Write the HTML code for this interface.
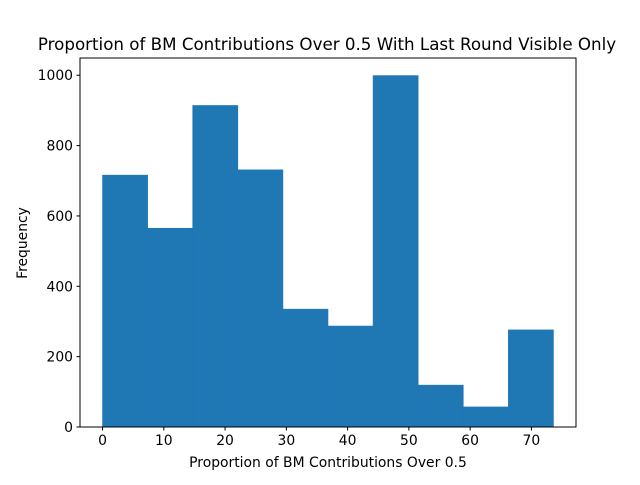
<!DOCTYPE html>
<html><head><meta charset="utf-8"><style>
body{margin:0;background:#fff;}
svg text{font-family:"DejaVu Sans","Liberation Sans",sans-serif;fill:#000;}
</style></head><body>
<svg id="chart" width="640" height="480" xmlns="http://www.w3.org/2000/svg">
<rect width="640" height="480" fill="#fff"/>
<text x="327" y="50" font-size="16.7" text-anchor="middle">Proportion of BM Contributions Over 0.5 With Last Round Visible Only</text>
<g id="bars"></g>
<rect x="80" y="58" width="496" height="369" fill="none" stroke="#000" stroke-width="1"/>
<g id="xticks"></g><g id="yticks"></g>
<text x="328" y="467" font-size="13.9" text-anchor="middle">Proportion of BM Contributions Over 0.5</text>
<text transform="translate(27,243) rotate(-90)" font-size="13.9" text-anchor="middle">Frequency</text>
</svg>
<script>
const binStart = 0;
const binWidth = 7.36;
const counts = [716, 565, 914, 731, 335, 287, 999, 119, 57, 276];
const xTickLabels = [0, 10, 20, 30, 40, 50, 60, 70];
const yTickLabels = [0, 200, 400, 600, 800, 1000];

const NS = "http://www.w3.org/2000/svg";
const X0 = 80, X1 = 576, Y0 = 427, Y1 = 58;
const xmin = -3.68, xmax = 77.28, ymax = 1049;
const xs = v => X0 + (v - xmin) / (xmax - xmin) * (X1 - X0);
const ys = v => Y0 - v / ymax * (Y0 - Y1);
function mk(tag, attrs, parent){const e=document.createElementNS(NS,tag);for(const k in attrs)e.setAttribute(k,attrs[k]);parent.appendChild(e);return e;}

const bars = document.getElementById('bars');
counts.forEach((c,i)=>{
  const a = xs(binStart + i*binWidth), b = xs(binStart + (i+1)*binWidth);
  const r = mk('rect',{x:a,y:ys(c),width:b-a,height:Y0-ys(c),fill:'#1f77b4',stroke:'#1f77b4','stroke-width':0.6},bars);
  
  
});
const xt = document.getElementById('xticks');
xTickLabels.forEach(v=>{
  const x = xs(v);
  const l = mk('line',{x1:x,x2:x,y1:Y0,y2:Y0+3.5,stroke:'#000'},xt);
  
  
  const t = mk('text',{x:x,y:Y0+18,'font-size':13.9,'text-anchor':'middle'},xt);
  t.textContent = v;
  
  
});
const yt = document.getElementById('yticks');
yTickLabels.forEach(v=>{
  const y = ys(v);
  const l = mk('line',{x1:X0-3.5,x2:X0,y1:y,y2:y,stroke:'#000'},yt);
  
  
  const t = mk('text',{x:X0-7,y:y+5,'font-size':13.9,'text-anchor':'end'},yt);
  t.textContent = v;
  
  
});
</script>
</body></html>
